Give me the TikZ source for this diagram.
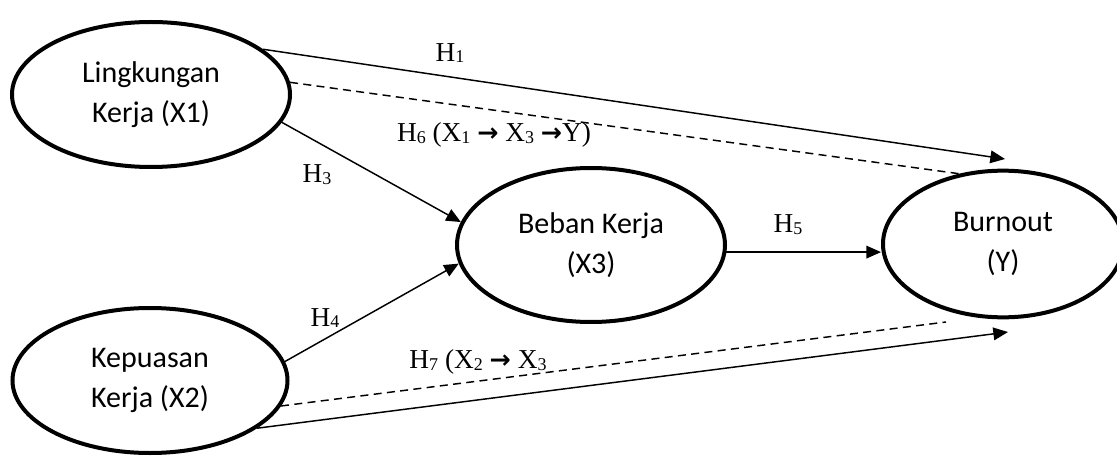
\documentclass[tikz,border=0pt]{standalone}
\usepackage{fontspec}
\setmainfont{Liberation Serif}
\newfontfamily\calib{Carlito}
\newfontfamily\arrowfont{DejaVu Sans}
\usepackage{tikz}
\usetikzlibrary{arrows.meta}
\usetikzlibrary{shapes.geometric}

\newcommand{\sbs}[1]{\raisebox{-0.15ex}{\fontsize{13.5pt}{13.5pt}\selectfont #1}}
\newcommand{\arr}{{\arrowfont\bfseries\fontsize{19pt}{19pt}\selectfont →}}

\begin{document}
\begin{tikzpicture}[x=0.75pt,y=0.75pt,yscale=-1,xscale=1,
    varbox/.style={ellipse,draw,line width=3pt,align=center,inner sep=0pt,
        font={\calib\fontsize{22.5pt}{30pt}\selectfont}},
    path/.style={line width=1.1pt,-{Triangle[length=11pt,width=9.5pt]}},
    indirect/.style={line width=1.1pt,dash pattern={on 6pt off 4pt}},
    hlabel/.style={inner sep=0.75pt,font={\fontsize{20.5pt}{24pt}\selectfont}}]
    \useasboundingbox (0,0) rectangle (1117,456);

    %Shape: Ellipse [id:x1]
    \node [varbox,minimum width=208.5pt,minimum height=108.75pt] (x1) at (151,94.5) {Lingkungan\\Kerja (X1)};
    %Shape: Ellipse [id:x2]
    \node [varbox,minimum width=206.25pt,minimum height=108.75pt] (x2) at (150,380.5) {Kepuasan\\Kerja (X2)};
    %Shape: Ellipse [id:x3]
    \node [varbox,minimum width=201pt,minimum height=115.5pt] (x3) at (591,245) {Beban Kerja\\(X3)};
    %Shape: Ellipse [id:y]
    \node [varbox,minimum width=180pt,minimum height=110pt] (y) at (1003,244) {Burnout\\(Y)};

    %free ends
    \coordinate (tip1) at (1005,159);
    \coordinate (tip2) at (1008,332);
    \coordinate (h7end) at (946,322);

    %Straight Lines [id:h1]
    \draw [path] (x1.22) -- (tip1);
    %Straight Lines [id:h6]
    \draw [indirect] (x1.5) -- (y.122);
    %Straight Lines [id:h3]
    \draw [path] (x1.-12) -- (x3.170);
    %Straight Lines [id:h4]
    \draw [path] (x2.8) -- (x3.-172);
    %Straight Lines [id:h5]
    \draw [path] (x3.-3) -- (x3.-3 -| y.west);
    %Straight Lines [id:h7]
    \draw [indirect] (x2.-11) -- (h7end);
    %Straight Lines [id:h2]
    \draw [path] (x2.-24) -- (tip2);

    % Text Node
    \node [hlabel] (lh1) at (450,53) {H\sbs{1}};
    % Text Node
    \node [hlabel] (lh6) at (494,135) {H\sbs{6} (X\sbs{1} \arr{} X\sbs{3} \arr{}Y)};
    % Text Node
    \node [hlabel] (lh3) at (317,175) {H\sbs{3}};
    % Text Node
    \node [hlabel] (lh4) at (325,318) {H\sbs{4}};
    % Text Node
    \node [hlabel] (lh5) at (788,225) {H\sbs{5}};
    % Text Node
    \node [hlabel] (lh7) at (478,362) {H\sbs{7} (X\sbs{2} \arr{} X\sbs{3}};

\end{tikzpicture}
\end{document}
